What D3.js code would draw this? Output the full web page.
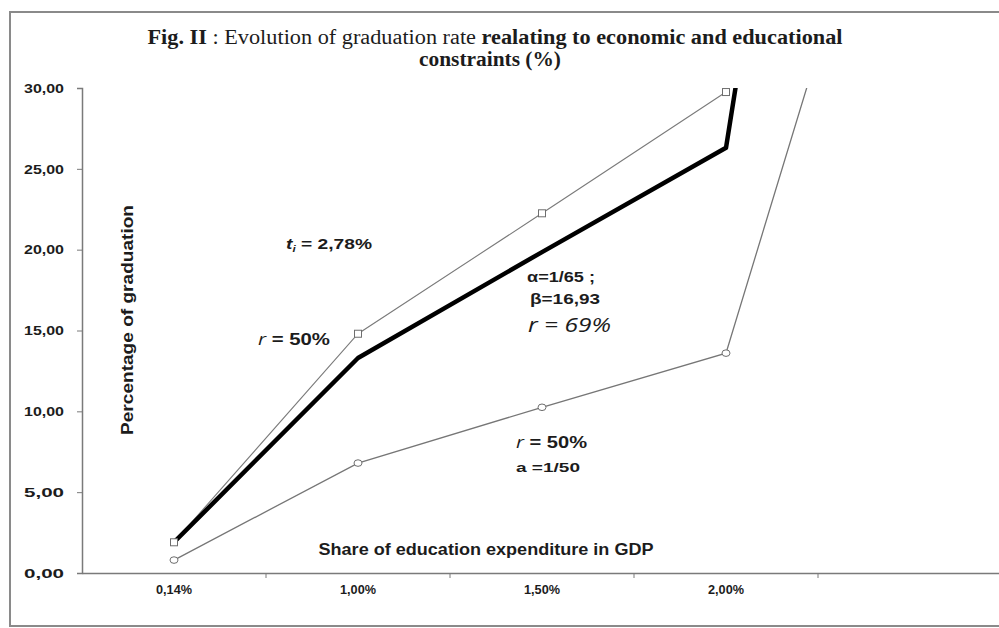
<!DOCTYPE html>
<html>
<head>
<meta charset="utf-8">
<script src="https://cdn.jsdelivr.net/npm/d3@7"></script>
<style>
  html, body { margin: 0; padding: 0; background: #fff; }
  svg text { font-family: "Liberation Sans", Arial, sans-serif; fill: #1c1c1c; }
</style>
</head>
<body>
<svg id="chart" width="999" height="628"></svg>
<script>
// categories of the x axis (last one is empty in the original)
const categories = ["0,14%", "1,00%", "1,50%", "2,00%", ""];
const yTicks = [0, 5, 10, 15, 20, 25, 30];

// three series, values in %
const upperSeries = [1.9, 14.8, 22.25, 29.75];
const mainSeries  = [1.9, 13.3, 19.85, 26.3, 98];
const lowerSeries = [0.8, 6.8, 10.25, 13.6, 51];

const svg = d3.select('#chart');

// frame (right edge falls outside the picture)
svg.append('rect')
  .attr('x', 10).attr('y', 12).attr('width', 1010).attr('height', 614)
  .attr('fill', 'none').attr('stroke', '#8a8a8a').attr('stroke-width', 2);

const x = d3.scaleBand().domain(categories).range([82, 1002]).paddingInner(0).paddingOuter(0);
const y = d3.scaleLinear().domain([0, 30]).range([573, 88]);
const cx = c => x(c) + x.bandwidth() / 2;

// title (the source picture is stretched sideways, so widths are forced)
const t1 = svg.append('text').attr('x', 495).attr('y', 44).attr('text-anchor', 'middle')
  .style('font-size', '20px').style('font-family', '"Liberation Serif", serif')
  .attr('textLength', 695).attr('lengthAdjust', 'spacingAndGlyphs');
t1.append('tspan').style('font-weight', 'bold').text('Fig. II');
t1.append('tspan').text(' : Evolution of graduation rate ');
t1.append('tspan').style('font-weight', 'bold').text('realating to economic and educational');
svg.append('text').attr('x', 490).attr('y', 66).attr('text-anchor', 'middle')
  .style('font-size', '20px').style('font-family', '"Liberation Serif", serif')
  .style('font-weight', 'bold')
  .attr('textLength', 142).attr('lengthAdjust', 'spacingAndGlyphs')
  .text('constraints (%)');

// y axis
const yAxis = svg.append('g').attr('transform', 'translate(82,0)')
  .call(d3.axisLeft(y).tickValues(yTicks).tickSize(5).tickPadding(13)
    .tickFormat(d => d.toFixed(2).replace('.', ',')));
yAxis.select('.domain').attr('stroke', '#7a7a7a').attr('stroke-width', 1.5);
yAxis.selectAll('.tick line').attr('stroke', '#7a7a7a');
yAxis.selectAll('.tick text').style('font-size', '13px').style('font-weight', 'bold')
  .style('font-family', '"Liberation Sans", Arial, sans-serif').attr('fill', '#222')
  .attr('textLength', 40).attr('lengthAdjust', 'spacingAndGlyphs');

// x axis: labels centred in bands, ticks on band boundaries
const xAxis = svg.append('g').attr('transform', 'translate(0,573)')
  .call(d3.axisBottom(x).tickSize(0).tickPadding(12));
xAxis.select('.domain').attr('stroke', '#7a7a7a').attr('stroke-width', 1.5);
xAxis.selectAll('.tick text').style('font-size', '12.5px').style('font-weight', 'bold')
  .style('font-family', '"Liberation Sans", Arial, sans-serif').attr('fill', '#222')
  .attr('textLength', d => d ? 36 : null).attr('lengthAdjust', 'spacingAndGlyphs');
xAxis.selectAll('.bound').data(categories.slice(1).concat(['__end']))
  .enter().append('line').attr('class', 'bound')
  .attr('x1', d => d === '__end' ? x.range()[1] : x(d))
  .attr('x2', d => d === '__end' ? x.range()[1] : x(d))
  .attr('y1', 0).attr('y2', 5).attr('stroke', '#7a7a7a');

// axis titles
svg.append('text').attr('x', 486).attr('y', 555).attr('text-anchor', 'middle')
  .style('font-size', '16px').style('font-weight', 'bold')
  .attr('textLength', 335).attr('lengthAdjust', 'spacingAndGlyphs')
  .text('Share of education expenditure in GDP');
svg.append('text').attr('transform', 'translate(133,320) rotate(-90)').attr('text-anchor', 'middle')
  .style('font-size', '17px').style('font-weight', 'bold')
  .attr('textLength', 230).attr('lengthAdjust', 'spacingAndGlyphs')
  .text('Percentage of graduation');

// plot clip
svg.append('clipPath').attr('id', 'plotClip').append('rect')
  .attr('x', 82).attr('y', y(30)).attr('width', 920).attr('height', y(0) - y(30));

const plot = svg.append('g').attr('clip-path', 'url(#plotClip)');
const line = d3.line().x(d => cx(d.c)).y(d => y(d.v));
const toPts = vals => vals.map((v, i) => ({ c: categories[i], v }));

plot.append('path').datum(toPts(upperSeries)).attr('d', line)
  .attr('fill', 'none').attr('stroke', '#7a7a7a').attr('stroke-width', 1.1);
plot.append('path').datum(toPts(lowerSeries)).attr('d', line)
  .attr('fill', 'none').attr('stroke', '#767676').attr('stroke-width', 1.3);
plot.append('path').datum(toPts(mainSeries)).attr('d', line)
  .attr('fill', 'none').attr('stroke', '#000').attr('stroke-width', 4.5)
  .attr('stroke-linejoin', 'round');

// markers
plot.selectAll('.sq').data(toPts(upperSeries)).enter().append('rect').attr('class', 'sq')
  .attr('x', d => cx(d.c) - 3.5).attr('y', d => y(d.v) - 3.5)
  .attr('width', 7).attr('height', 7)
  .attr('fill', '#fff').attr('stroke', '#6e6e6e').attr('stroke-width', 1);
plot.selectAll('.ci').data(toPts(lowerSeries).slice(0, 4)).enter().append('ellipse').attr('class', 'ci')
  .attr('cx', d => cx(d.c)).attr('cy', d => y(d.v))
  .attr('rx', 4).attr('ry', 3.3)
  .attr('fill', '#fff').attr('stroke', '#6e6e6e').attr('stroke-width', 1);

// annotations
const ann = svg.append('g');
const a1 = ann.append('text').attr('x', 286).attr('y', 249).style('font-size', '15px').style('font-weight', 'bold')
  .attr('textLength', 86).attr('lengthAdjust', 'spacingAndGlyphs');
a1.append('tspan').style('font-style', 'italic').text('t');
a1.append('tspan').attr('dy', 3).style('font-size', '9px').style('font-style', 'italic').text('i');
a1.append('tspan').attr('dy', -3).text(' = 2,78%');

const a2 = ann.append('text').attr('x', 258).attr('y', 345).style('font-size', '17px').style('font-weight', 'bold')
  .attr('textLength', 72).attr('lengthAdjust', 'spacingAndGlyphs');
a2.append('tspan').style('font-style', 'italic').style('font-weight', 'normal')
  .style('font-family', '"Open Sans", sans-serif').text('r');
a2.append('tspan').text(' = 50%');

ann.append('text').attr('x', 527).attr('y', 282).style('font-size', '15px').style('font-weight', 'bold')
  .attr('textLength', 68).attr('lengthAdjust', 'spacingAndGlyphs')
  .text('α=1/65 ;');
ann.append('text').attr('x', 530).attr('y', 304).style('font-size', '15px').style('font-weight', 'bold')
  .attr('textLength', 70).attr('lengthAdjust', 'spacingAndGlyphs')
  .text('β=16,93');
ann.append('text').attr('x', 528).attr('y', 332).style('font-size', '20px').style('font-style', 'italic')
  .style('font-family', '"Open Sans", sans-serif').attr('fill', '#333')
  .attr('textLength', 83).attr('lengthAdjust', 'spacingAndGlyphs')
  .text('r = 69%');

const a3 = ann.append('text').attr('x', 516).attr('y', 448).style('font-size', '17px').style('font-weight', 'bold')
  .attr('textLength', 71).attr('lengthAdjust', 'spacingAndGlyphs');
a3.append('tspan').style('font-style', 'italic').style('font-weight', 'normal')
  .style('font-family', '"Open Sans", sans-serif').text('r');
a3.append('tspan').text(' = 50%');
ann.append('text').attr('x', 516).attr('y', 472).style('font-size', '13.5px').style('font-weight', 'bold')
  .attr('textLength', 64).attr('lengthAdjust', 'spacingAndGlyphs')
  .text('a =1/50');
</script>
</body>
</html>
